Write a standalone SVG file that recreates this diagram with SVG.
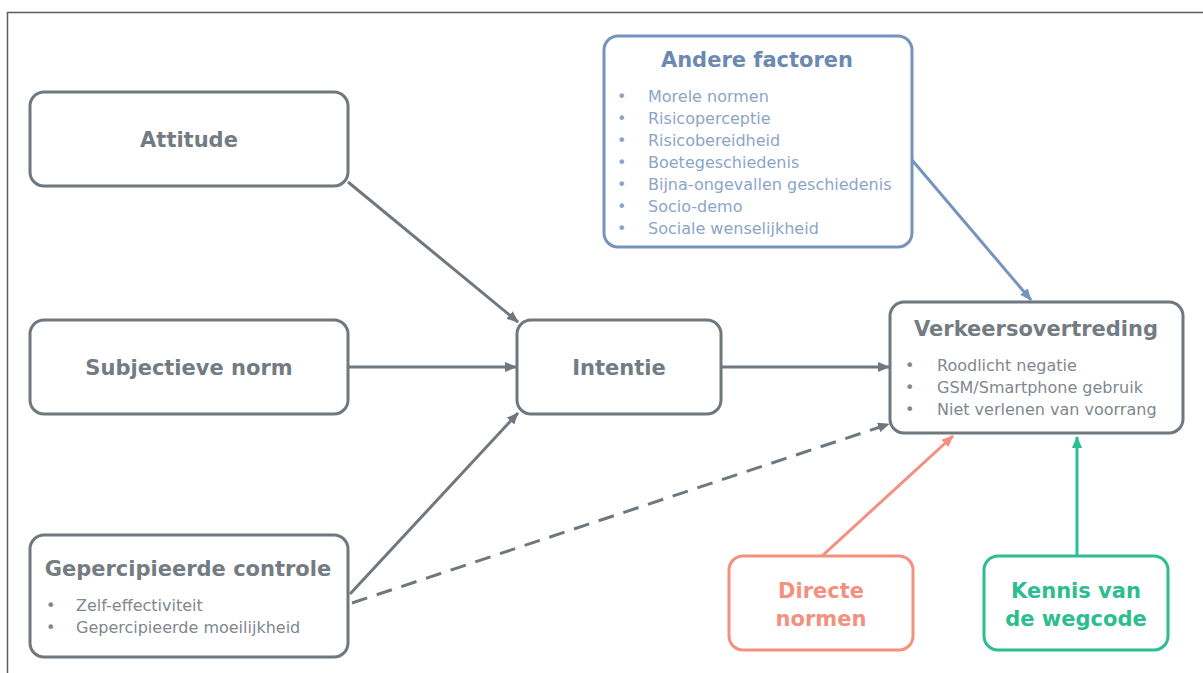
<svg xmlns="http://www.w3.org/2000/svg" width="1203" height="673" viewBox="0 0 1203 673">
<style>
.box{fill:#fff;stroke-width:3}
.g{stroke:#6f777f}
.b{stroke:#7594bd}
.r{stroke:#f3907f}
.gr{stroke:#2cbd90}
.t{font-family:"DejaVu Sans",Verdana,sans-serif;font-weight:bold;font-size:21px;text-anchor:middle}
.li{font-family:"DejaVu Sans",Verdana,sans-serif;font-size:16px}
.conn{fill:none;stroke-width:3}
</style>
<defs>
<marker id="ag" viewBox="0 0 12 10" refX="11" refY="5" markerWidth="12" markerHeight="10" markerUnits="userSpaceOnUse" orient="auto"><path d="M0,0 L12,5 L0,10 Z" fill="#6f777f"/></marker>
<marker id="ab" viewBox="0 0 12 10" refX="11" refY="5" markerWidth="12" markerHeight="10" markerUnits="userSpaceOnUse" orient="auto"><path d="M0,0 L12,5 L0,10 Z" fill="#7594bd"/></marker>
<marker id="ar" viewBox="0 0 12 10" refX="11" refY="5" markerWidth="12" markerHeight="10" markerUnits="userSpaceOnUse" orient="auto"><path d="M0,0 L12,5 L0,10 Z" fill="#f3907f"/></marker>
<marker id="agr" viewBox="0 0 12 10" refX="11" refY="5" markerWidth="12" markerHeight="10" markerUnits="userSpaceOnUse" orient="auto"><path d="M0,0 L12,5 L0,10 Z" fill="#2cbd90"/></marker>
</defs>
<rect width="1203" height="673" fill="#fff"/>
<path d="M7.5,673 V12.5 H1203" fill="none" stroke="#5a5d60" stroke-width="1.5"/>
<g id="connectors">
<line class="conn" x1="348" y1="182" x2="518" y2="322" stroke="#6f777f" marker-end="url(#ag)"/>
<line class="conn" x1="349" y1="367" x2="516" y2="367" stroke="#6f777f" marker-end="url(#ag)"/>
<line class="conn" x1="350" y1="594" x2="518" y2="413" stroke="#6f777f" marker-end="url(#ag)"/>
<line class="conn" x1="352" y1="603" x2="889" y2="424" stroke="#6f777f" stroke-dasharray="16,10" marker-end="url(#ag)"/>
<line class="conn" x1="722" y1="367" x2="889" y2="367" stroke="#6f777f" marker-end="url(#ag)"/>
<line class="conn" x1="912" y1="160" x2="1031" y2="300" stroke="#7594bd" marker-end="url(#ab)"/>
<line class="conn" x1="822" y1="556" x2="953" y2="436" stroke="#f3907f" marker-end="url(#ar)"/>
<line class="conn" x1="1077" y1="556" x2="1077" y2="437" stroke="#2cbd90" marker-end="url(#agr)"/>
</g>
<g id="attitude">
<rect class="box g" x="30" y="92" width="318" height="94" rx="14"/>
<text class="t" x="189" y="147" fill="#737b83">Attitude</text>
</g>
<g id="subjectieve-norm">
<rect class="box g" x="30" y="320" width="318" height="94" rx="14"/>
<text class="t" x="189" y="375" fill="#737b83">Subjectieve norm</text>
</g>
<g id="gepercipieerde-controle">
<rect class="box g" x="30" y="535" width="318" height="122" rx="14"/>
<text class="t" x="188" y="576" fill="#737b83">Gepercipieerde controle</text>
<g class="li" fill="#80878e" font-size="15.5">
<text x="46" y="611">•</text><text x="76" y="611">Zelf-effectiviteit</text>
<text x="46" y="633">•</text><text x="76" y="633">Gepercipieerde moeilijkheid</text>
</g>
</g>
<g id="intentie">
<rect class="box g" x="517" y="320" width="204" height="94" rx="14"/>
<text class="t" x="619" y="375" fill="#737b83">Intentie</text>
</g>
<g id="andere-factoren">
<rect class="box b" x="604" y="36" width="308" height="211" rx="14"/>
<text class="t" x="757" y="67" fill="#6b89b1">Andere factoren</text>
<g class="li" fill="#8ca5c7">
<text x="617" y="102">•</text><text x="648" y="102">Morele normen</text>
<text x="617" y="124">•</text><text x="648" y="124">Risicoperceptie</text>
<text x="617" y="146">•</text><text x="648" y="146">Risicobereidheid</text>
<text x="617" y="168">•</text><text x="648" y="168">Boetegeschiedenis</text>
<text x="617" y="190">•</text><text x="648" y="190">Bijna-ongevallen geschiedenis</text>
<text x="617" y="212">•</text><text x="648" y="212">Socio-demo</text>
<text x="617" y="234">•</text><text x="648" y="234">Sociale wenselijkheid</text>
</g>
</g>
<g id="verkeersovertreding">
<rect class="box g" x="890" y="302" width="293" height="131" rx="14"/>
<text class="t" x="1036" y="336" fill="#737b83">Verkeersovertreding</text>
<g class="li" fill="#80878e">
<text x="905" y="371">•</text><text x="937" y="371">Roodlicht negatie</text>
<text x="905" y="393">•</text><text x="937" y="393">GSM/Smartphone gebruik</text>
<text x="905" y="415">•</text><text x="937" y="415">Niet verlenen van voorrang</text>
</g>
</g>
<g id="directe-normen">
<rect class="box r" x="729" y="556" width="184" height="94" rx="14"/>
<text class="t" x="821" y="598" fill="#f3907f">Directe</text>
<text class="t" x="821" y="626" fill="#f3907f">normen</text>
</g>
<g id="kennis-wegcode">
<rect class="box gr" x="984" y="556" width="184" height="94" rx="14"/>
<text class="t" x="1076" y="598" fill="#2cbd90">Kennis van</text>
<text class="t" x="1076" y="626" fill="#2cbd90">de wegcode</text>
</g>
</svg>
